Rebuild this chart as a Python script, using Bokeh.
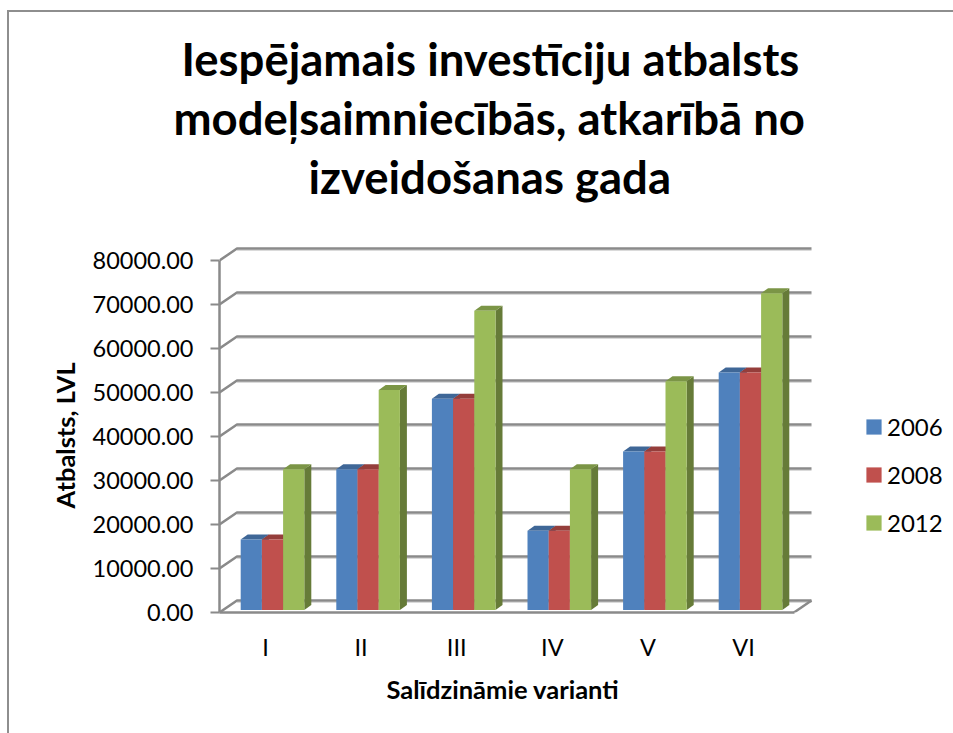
from bokeh.embed import file_html
from bokeh.resources import INLINE
from bokeh.plotting import figure
from bokeh.models import (Range1d, FixedTicker, PrintfTickFormatter, Legend, LegendItem, Title)

categories = ["I", "II", "III", "IV", "V", "VI"]
y2006 = [16000, 32000, 48000, 18000, 36000, 54000]
y2008 = [16000, 32000, 48000, 18000, 36000, 54000]
y2012 = [32000, 50000, 68000, 32000, 52000, 72000]
years = ["2006", "2008", "2012"]
y_ticks = [0, 10000, 20000, 30000, 40000, 50000, 60000, 70000, 80000]
title_lines = ["Iespējamais investīciju atbalsts", "modeļsaimniecībās, atkarībā no", "izveidošanas gada"]
title_offsets = [-38, -46, 89]
x_label = "Salīdzināmie varianti"
y_label = "Atbalsts, LVL"

front = ["#4F81BD", "#C0504D", "#9BBB59"]
top_c = ["#3F6797", "#953E3B", "#7B9546"]
side_c = ["#3A5F8C", "#8C3A37", "#667B38"]
GRID = "#8A8A8A"
FONT = "Lato"
W, H = 953, 733

PXX = 95.6
PXY = 352 / 80000
L, R, T, B = 219, 811, 204, 612
X0 = 272
xr = Range1d((L - X0) / PXX, (W - X0) / PXX)
yr = Range1d(0, (B - T) / PXY)
BW = 21.2 / PXX
DX, DY = 7 / PXX, 5 / PXY
WX, WY = 17.5 / PXX, 12 / PXY
BASE = 2.5 / PXY

p = figure(width=W, height=H, x_range=xr, y_range=yr, output_backend="svg",
           toolbar_location=None, min_border_left=L, min_border_right=0,
           min_border_top=T, min_border_bottom=H - B,
           background_fill_color=None, border_fill_color=None, outline_line_color=None)
p.grid.visible = False
p.styles = {"background": "linear-gradient(#8E8E8E,#8E8E8E) 7px 10px/946px 2px no-repeat,"
                          "linear-gradient(#8E8E8E,#8E8E8E) 7px 10px/2px 723px no-repeat"}

x_left = xr.start
xe = (R - X0) / PXX
floor_r = xe - WX

for v in y_ticks:
    p.line([x_left + WX, xe], [v + WY - 1.8 / PXY] * 2, line_color="#DADADA", line_width=1.5)
    p.line([x_left, x_left + WX, xe], [v, v + WY, v + WY], line_color=GRID, line_width=2.5)
p.line([floor_r, xe], [0, WY], line_color=GRID, line_width=2.5)

renderers = []
for j, vals in enumerate([y2006, y2008, y2012]):
    xc = [i + (j - 1) * BW for i in range(len(categories))]
    for x, v in zip(xc, vals):
        xa, xb = x - BW / 2, x + BW / 2
        t = v + BASE
        p.patch([xb, xb + DX, xb + DX, xb], [BASE, BASE + DY, t + DY, t], color=side_c[j], line_width=0)
        p.patch([xa, xa + DX, xb + DX, xb], [t, t + DY, t + DY, t], color=top_c[j], line_width=0)
    r = p.vbar(x=xc, width=BW, bottom=BASE, top=[v + BASE for v in vals], color=front[j], line_width=0)
    renderers.append(r)

ya = p.yaxis[0]
ya.ticker = FixedTicker(ticks=y_ticks)
ya.formatter = PrintfTickFormatter(format="%.2f")
ya.bounds = (0, 80000)
ya.axis_line_color = GRID
ya.axis_line_width = 2.5
ya.major_tick_line_color = GRID
ya.major_tick_line_width = 2
ya.major_tick_in = 0
ya.major_tick_out = 9
ya.minor_tick_line_color = None
ya.major_label_text_font = FONT
ya.major_label_text_font_size = "23.5px"
ya.major_label_text_color = "black"
ya.major_label_standoff = 17

xa_ = p.xaxis[0]
ticks = [i - 7 / PXX for i in range(len(categories))]
xa_.ticker = FixedTicker(ticks=ticks)
xa_.major_label_overrides = {t: c for t, c in zip(ticks, categories)}
xa_.bounds = (x_left, floor_r)
xa_.axis_line_color = GRID
xa_.axis_line_width = 2.5
xa_.major_tick_line_color = None
xa_.minor_tick_line_color = None
xa_.major_label_text_font = FONT
xa_.major_label_text_font_size = "23.5px"
xa_.major_label_text_color = "black"
xa_.major_label_standoff = 14

leg = Legend(items=[LegendItem(label=y, renderers=[r]) for y, r in zip(years, renderers)],
             location=(645, 75), orientation="vertical", padding=0, margin=0, spacing=19,
             glyph_width=19, glyph_height=19, label_standoff=4, label_height=28,
             label_text_font=FONT, label_text_font_size="24px", label_text_color="black",
             background_fill_alpha=0, border_line_color=None)
p.add_layout(leg, "center")

for line, off in reversed(list(zip(title_lines, title_offsets))):
    p.add_layout(Title(text=line, align="left", offset=off, standoff=2,
                       text_font=FONT, text_font_style="bold", text_font_size="45.5px",
                       text_color="black", text_line_height=1.0), "above")

p.add_layout(Title(text=x_label, align="left", offset=167, standoff=16,
                   text_font=FONT, text_font_style="bold", text_font_size="25.5px",
                   text_color="black"), "below")
p.add_layout(Title(text=y_label, align="left", offset=104, standoff=20,
                   text_font=FONT, text_font_style="bold", text_font_size="25.5px",
                   text_color="black"), "left")

open("out.html", "w").write(file_html(p, INLINE))
